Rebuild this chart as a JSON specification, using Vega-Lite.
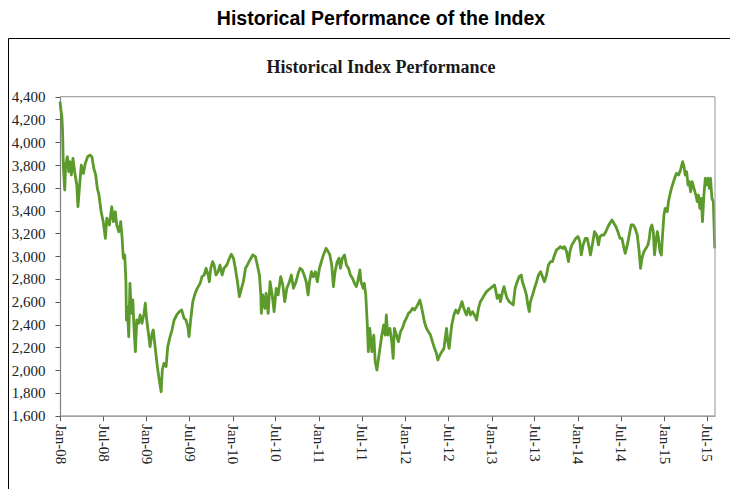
{
  "$schema": "https://vega.github.io/schema/vega-lite/v6.json",
  "autosize": "none",
  "width": 722,
  "height": 451,
  "padding": {"left": 8, "top": 38, "right": 0, "bottom": 0},
  "background": "white",
  "title": {
    "text": "Historical Performance of the Index",
    "subtitle": "Historical Index Performance",
    "anchor": "middle",
    "frame": "group",
    "offset": -40,
    "dx": 12,
    "font": "Liberation Sans",
    "fontSize": 19.5,
    "fontWeight": "bold",
    "color": "#000000",
    "subtitleFont": "Liberation Serif",
    "subtitleFontSize": 18,
    "subtitleFontWeight": "bold",
    "subtitleColor": "#1a1a1a",
    "subtitlePadding": 30
  },
  "config": {
    "view": {"stroke": "#000000", "strokeWidth": 1, "strokeDash": [722, 1173, 451, 1]},
    "axis": {"grid": false, "labelFont": "Liberation Serif", "labelFontSize": 15, "labelColor": "#222222", "tickColor": "#595959", "tickSize": 5, "domainColor": "#808080", "domainWidth": 1.2}
  },
  "resolve": {"axis": {"x": "independent", "y": "independent"}},
  "data": {"values": [
    {"date": "2008-01-01", "value": 4356}, {"date": "2008-01-05", "value": 4283}, {"date": "2008-01-09", "value": 4224}, {"date": "2008-01-12", "value": 4093}, {"date": "2008-01-15", "value": 3800}, {"date": "2008-01-21", "value": 3581}, {"date": "2008-01-25", "value": 3800}, {"date": "2008-02-01", "value": 3873}, {"date": "2008-02-07", "value": 3742}, {"date": "2008-02-12", "value": 3829}, {"date": "2008-02-18", "value": 3713}, {"date": "2008-02-25", "value": 3859}, {"date": "2008-03-03", "value": 3742}, {"date": "2008-03-12", "value": 3625}, {"date": "2008-03-17", "value": 3435}, {"date": "2008-03-23", "value": 3596}, {"date": "2008-03-31", "value": 3800}, {"date": "2008-04-09", "value": 3727}, {"date": "2008-04-17", "value": 3815}, {"date": "2008-04-27", "value": 3873}, {"date": "2008-05-07", "value": 3888}, {"date": "2008-05-15", "value": 3873}, {"date": "2008-05-23", "value": 3771}, {"date": "2008-05-31", "value": 3713}, {"date": "2008-06-07", "value": 3596}, {"date": "2008-06-14", "value": 3537}, {"date": "2008-06-23", "value": 3391}, {"date": "2008-07-02", "value": 3303}, {"date": "2008-07-11", "value": 3157}, {"date": "2008-07-17", "value": 3333}, {"date": "2008-07-28", "value": 3274}, {"date": "2008-08-07", "value": 3435}, {"date": "2008-08-14", "value": 3303}, {"date": "2008-08-22", "value": 3391}, {"date": "2008-08-28", "value": 3274}, {"date": "2008-09-06", "value": 3215}, {"date": "2008-09-14", "value": 3303}, {"date": "2008-09-20", "value": 3157}, {"date": "2008-09-25", "value": 2982}, {"date": "2008-10-01", "value": 3011}, {"date": "2008-10-06", "value": 2776}, {"date": "2008-10-08", "value": 2440}, {"date": "2008-10-12", "value": 2557}, {"date": "2008-10-18", "value": 2294}, {"date": "2008-10-23", "value": 2762}, {"date": "2008-10-29", "value": 2499}, {"date": "2008-11-04", "value": 2616}, {"date": "2008-11-09", "value": 2382}, {"date": "2008-11-15", "value": 2162}, {"date": "2008-11-21", "value": 2440}, {"date": "2008-11-29", "value": 2411}, {"date": "2008-12-05", "value": 2484}, {"date": "2008-12-13", "value": 2411}, {"date": "2008-12-22", "value": 2499}, {"date": "2008-12-27", "value": 2587},
    {"date": "2009-01-02", "value": 2440}, {"date": "2009-01-11", "value": 2294}, {"date": "2009-01-16", "value": 2206}, {"date": "2009-01-25", "value": 2323}, {"date": "2009-01-30", "value": 2352}, {"date": "2009-02-08", "value": 2177}, {"date": "2009-02-16", "value": 2031}, {"date": "2009-02-24", "value": 1914}, {"date": "2009-03-04", "value": 1811}, {"date": "2009-03-09", "value": 2001}, {"date": "2009-03-16", "value": 2060}, {"date": "2009-03-25", "value": 2031}, {"date": "2009-04-01", "value": 2206}, {"date": "2009-04-11", "value": 2294}, {"date": "2009-04-19", "value": 2352}, {"date": "2009-04-28", "value": 2440}, {"date": "2009-05-09", "value": 2484}, {"date": "2009-05-20", "value": 2513}, {"date": "2009-05-30", "value": 2528}, {"date": "2009-06-09", "value": 2455}, {"date": "2009-06-17", "value": 2440}, {"date": "2009-06-25", "value": 2382}, {"date": "2009-06-30", "value": 2294}, {"date": "2009-07-07", "value": 2440}, {"date": "2009-07-16", "value": 2601}, {"date": "2009-07-26", "value": 2674}, {"date": "2009-08-04", "value": 2718}, {"date": "2009-08-16", "value": 2762}, {"date": "2009-08-24", "value": 2820}, {"date": "2009-09-02", "value": 2835}, {"date": "2009-09-10", "value": 2894}, {"date": "2009-09-19", "value": 2835}, {"date": "2009-09-24", "value": 2776}, {"date": "2009-09-30", "value": 2894}, {"date": "2009-10-08", "value": 2952}, {"date": "2009-10-14", "value": 2923}, {"date": "2009-10-22", "value": 2835}, {"date": "2009-10-31", "value": 2864}, {"date": "2009-11-08", "value": 2923}, {"date": "2009-11-17", "value": 2835}, {"date": "2009-11-25", "value": 2894}, {"date": "2009-12-07", "value": 2923}, {"date": "2009-12-18", "value": 2982}, {"date": "2009-12-26", "value": 3017},
    {"date": "2010-01-04", "value": 2982}, {"date": "2010-01-12", "value": 2894}, {"date": "2010-01-21", "value": 2776}, {"date": "2010-01-29", "value": 2645}, {"date": "2010-02-07", "value": 2718}, {"date": "2010-02-15", "value": 2776}, {"date": "2010-02-24", "value": 2894}, {"date": "2010-03-04", "value": 2923}, {"date": "2010-03-15", "value": 2967}, {"date": "2010-03-27", "value": 3011}, {"date": "2010-04-07", "value": 2996}, {"date": "2010-04-15", "value": 2923}, {"date": "2010-04-24", "value": 2835}, {"date": "2010-04-30", "value": 2660}, {"date": "2010-05-02", "value": 2499}, {"date": "2010-05-08", "value": 2660}, {"date": "2010-05-17", "value": 2543}, {"date": "2010-05-22", "value": 2674}, {"date": "2010-05-31", "value": 2499}, {"date": "2010-06-08", "value": 2776}, {"date": "2010-06-17", "value": 2660}, {"date": "2010-06-25", "value": 2513}, {"date": "2010-07-04", "value": 2718}, {"date": "2010-07-12", "value": 2660}, {"date": "2010-07-23", "value": 2820}, {"date": "2010-08-01", "value": 2747}, {"date": "2010-08-09", "value": 2601}, {"date": "2010-08-18", "value": 2718}, {"date": "2010-08-29", "value": 2776}, {"date": "2010-09-06", "value": 2835}, {"date": "2010-09-15", "value": 2718}, {"date": "2010-09-26", "value": 2776}, {"date": "2010-10-05", "value": 2850}, {"date": "2010-10-13", "value": 2894}, {"date": "2010-10-22", "value": 2879}, {"date": "2010-10-30", "value": 2835}, {"date": "2010-11-08", "value": 2776}, {"date": "2010-11-16", "value": 2660}, {"date": "2010-11-22", "value": 2776}, {"date": "2010-11-30", "value": 2864}, {"date": "2010-12-08", "value": 2820}, {"date": "2010-12-17", "value": 2864}, {"date": "2010-12-25", "value": 2776},
    {"date": "2011-01-03", "value": 2894}, {"date": "2011-01-11", "value": 2952}, {"date": "2011-01-20", "value": 3011}, {"date": "2011-01-31", "value": 3069}, {"date": "2011-02-09", "value": 3040}, {"date": "2011-02-16", "value": 3011}, {"date": "2011-02-24", "value": 2923}, {"date": "2011-03-03", "value": 2733}, {"date": "2011-03-10", "value": 2864}, {"date": "2011-03-19", "value": 2952}, {"date": "2011-03-27", "value": 2982}, {"date": "2011-04-02", "value": 2894}, {"date": "2011-04-10", "value": 2982}, {"date": "2011-04-19", "value": 3011}, {"date": "2011-04-27", "value": 2923}, {"date": "2011-05-06", "value": 2894}, {"date": "2011-05-14", "value": 2835}, {"date": "2011-05-23", "value": 2806}, {"date": "2011-05-31", "value": 2762}, {"date": "2011-06-08", "value": 2733}, {"date": "2011-06-14", "value": 2776}, {"date": "2011-06-23", "value": 2879}, {"date": "2011-06-28", "value": 2776}, {"date": "2011-07-07", "value": 2718}, {"date": "2011-07-12", "value": 2762}, {"date": "2011-07-18", "value": 2660}, {"date": "2011-07-24", "value": 2425}, {"date": "2011-07-29", "value": 2162}, {"date": "2011-08-04", "value": 2367}, {"date": "2011-08-13", "value": 2162}, {"date": "2011-08-21", "value": 2308}, {"date": "2011-08-27", "value": 2074}, {"date": "2011-09-03", "value": 2001}, {"date": "2011-09-10", "value": 2104}, {"date": "2011-09-16", "value": 2191}, {"date": "2011-09-24", "value": 2308}, {"date": "2011-10-02", "value": 2396}, {"date": "2011-10-08", "value": 2308}, {"date": "2011-10-13", "value": 2484}, {"date": "2011-10-19", "value": 2308}, {"date": "2011-10-28", "value": 2367}, {"date": "2011-11-05", "value": 2250}, {"date": "2011-11-11", "value": 2104}, {"date": "2011-11-16", "value": 2367}, {"date": "2011-11-25", "value": 2308}, {"date": "2011-12-03", "value": 2250}, {"date": "2011-12-12", "value": 2338}, {"date": "2011-12-20", "value": 2367}, {"date": "2011-12-29", "value": 2425},
    {"date": "2012-01-06", "value": 2455}, {"date": "2012-01-15", "value": 2499}, {"date": "2012-01-23", "value": 2513}, {"date": "2012-02-01", "value": 2543}, {"date": "2012-02-09", "value": 2528}, {"date": "2012-02-18", "value": 2557}, {"date": "2012-02-26", "value": 2587}, {"date": "2012-03-03", "value": 2616}, {"date": "2012-03-08", "value": 2572}, {"date": "2012-03-14", "value": 2513}, {"date": "2012-03-22", "value": 2425}, {"date": "2012-03-31", "value": 2367}, {"date": "2012-04-08", "value": 2338}, {"date": "2012-04-17", "value": 2308}, {"date": "2012-04-25", "value": 2250}, {"date": "2012-05-04", "value": 2191}, {"date": "2012-05-12", "value": 2148}, {"date": "2012-05-18", "value": 2089}, {"date": "2012-05-27", "value": 2133}, {"date": "2012-06-04", "value": 2162}, {"date": "2012-06-13", "value": 2191}, {"date": "2012-06-18", "value": 2279}, {"date": "2012-06-24", "value": 2367}, {"date": "2012-06-29", "value": 2250}, {"date": "2012-07-05", "value": 2191}, {"date": "2012-07-11", "value": 2308}, {"date": "2012-07-16", "value": 2396}, {"date": "2012-07-25", "value": 2484}, {"date": "2012-08-02", "value": 2528}, {"date": "2012-08-11", "value": 2499}, {"date": "2012-08-19", "value": 2543}, {"date": "2012-08-28", "value": 2601}, {"date": "2012-09-05", "value": 2543}, {"date": "2012-09-16", "value": 2484}, {"date": "2012-09-25", "value": 2543}, {"date": "2012-10-03", "value": 2484}, {"date": "2012-10-12", "value": 2513}, {"date": "2012-10-20", "value": 2484}, {"date": "2012-10-29", "value": 2440}, {"date": "2012-11-06", "value": 2543}, {"date": "2012-11-14", "value": 2601}, {"date": "2012-11-23", "value": 2630}, {"date": "2012-12-01", "value": 2660}, {"date": "2012-12-10", "value": 2689}, {"date": "2012-12-18", "value": 2704}, {"date": "2012-12-27", "value": 2718},
    {"date": "2013-01-04", "value": 2733}, {"date": "2013-01-13", "value": 2747}, {"date": "2013-01-19", "value": 2689}, {"date": "2013-01-24", "value": 2630}, {"date": "2013-02-02", "value": 2660}, {"date": "2013-02-07", "value": 2601}, {"date": "2013-02-16", "value": 2689}, {"date": "2013-02-22", "value": 2733}, {"date": "2013-02-27", "value": 2689}, {"date": "2013-03-07", "value": 2630}, {"date": "2013-03-16", "value": 2601}, {"date": "2013-03-24", "value": 2587}, {"date": "2013-04-02", "value": 2572}, {"date": "2013-04-10", "value": 2718}, {"date": "2013-04-19", "value": 2776}, {"date": "2013-04-27", "value": 2820}, {"date": "2013-05-06", "value": 2835}, {"date": "2013-05-11", "value": 2776}, {"date": "2013-05-20", "value": 2718}, {"date": "2013-05-28", "value": 2660}, {"date": "2013-06-03", "value": 2572}, {"date": "2013-06-09", "value": 2513}, {"date": "2013-06-14", "value": 2601}, {"date": "2013-06-23", "value": 2660}, {"date": "2013-07-01", "value": 2718}, {"date": "2013-07-10", "value": 2776}, {"date": "2013-07-18", "value": 2835}, {"date": "2013-07-27", "value": 2864}, {"date": "2013-08-04", "value": 2820}, {"date": "2013-08-12", "value": 2776}, {"date": "2013-08-21", "value": 2835}, {"date": "2013-08-29", "value": 2923}, {"date": "2013-09-07", "value": 2952}, {"date": "2013-09-15", "value": 2952}, {"date": "2013-09-24", "value": 3011}, {"date": "2013-10-02", "value": 3055}, {"date": "2013-10-11", "value": 3069}, {"date": "2013-10-19", "value": 3084}, {"date": "2013-10-28", "value": 3069}, {"date": "2013-11-05", "value": 3084}, {"date": "2013-11-14", "value": 3040}, {"date": "2013-11-22", "value": 2952}, {"date": "2013-11-28", "value": 3040}, {"date": "2013-12-06", "value": 3099}, {"date": "2013-12-15", "value": 3128}, {"date": "2013-12-23", "value": 3157},
    {"date": "2014-01-01", "value": 3172}, {"date": "2014-01-09", "value": 3128}, {"date": "2014-01-15", "value": 3011}, {"date": "2014-01-23", "value": 3099}, {"date": "2014-02-01", "value": 3157}, {"date": "2014-02-09", "value": 3157}, {"date": "2014-02-18", "value": 3069}, {"date": "2014-02-23", "value": 3011}, {"date": "2014-03-04", "value": 3113}, {"date": "2014-03-12", "value": 3215}, {"date": "2014-03-21", "value": 3186}, {"date": "2014-03-29", "value": 3099}, {"date": "2014-04-04", "value": 3172}, {"date": "2014-04-12", "value": 3186}, {"date": "2014-04-21", "value": 3186}, {"date": "2014-04-29", "value": 3215}, {"date": "2014-05-08", "value": 3259}, {"date": "2014-05-16", "value": 3289}, {"date": "2014-05-25", "value": 3318}, {"date": "2014-06-02", "value": 3289}, {"date": "2014-06-11", "value": 3259}, {"date": "2014-06-19", "value": 3215}, {"date": "2014-06-28", "value": 3157}, {"date": "2014-07-06", "value": 3157}, {"date": "2014-07-15", "value": 3069}, {"date": "2014-07-20", "value": 3025}, {"date": "2014-07-29", "value": 3099}, {"date": "2014-08-06", "value": 3186}, {"date": "2014-08-14", "value": 3274}, {"date": "2014-08-23", "value": 3274}, {"date": "2014-08-31", "value": 3245}, {"date": "2014-09-09", "value": 3186}, {"date": "2014-09-17", "value": 3040}, {"date": "2014-09-23", "value": 2894}, {"date": "2014-09-29", "value": 2982}, {"date": "2014-10-07", "value": 3040}, {"date": "2014-10-16", "value": 3069}, {"date": "2014-10-24", "value": 3099}, {"date": "2014-10-30", "value": 3157}, {"date": "2014-11-04", "value": 3245}, {"date": "2014-11-10", "value": 3274}, {"date": "2014-11-16", "value": 3215}, {"date": "2014-11-21", "value": 3011}, {"date": "2014-11-27", "value": 3128}, {"date": "2014-12-03", "value": 3215}, {"date": "2014-12-08", "value": 3157}, {"date": "2014-12-14", "value": 3040}, {"date": "2014-12-20", "value": 3011}, {"date": "2014-12-25", "value": 3186}, {"date": "2014-12-31", "value": 3362},
    {"date": "2015-01-05", "value": 3420}, {"date": "2015-01-14", "value": 3391}, {"date": "2015-01-19", "value": 3479}, {"date": "2015-01-28", "value": 3566}, {"date": "2015-02-05", "value": 3625}, {"date": "2015-02-14", "value": 3684}, {"date": "2015-02-22", "value": 3727}, {"date": "2015-03-03", "value": 3713}, {"date": "2015-03-11", "value": 3757}, {"date": "2015-03-20", "value": 3830}, {"date": "2015-03-26", "value": 3786}, {"date": "2015-03-31", "value": 3713}, {"date": "2015-04-06", "value": 3742}, {"date": "2015-04-12", "value": 3625}, {"date": "2015-04-17", "value": 3654}, {"date": "2015-04-23", "value": 3566}, {"date": "2015-04-29", "value": 3654}, {"date": "2015-05-07", "value": 3596}, {"date": "2015-05-15", "value": 3537}, {"date": "2015-05-21", "value": 3479}, {"date": "2015-05-26", "value": 3537}, {"date": "2015-06-01", "value": 3420}, {"date": "2015-06-07", "value": 3508}, {"date": "2015-06-12", "value": 3303}, {"date": "2015-06-18", "value": 3537}, {"date": "2015-06-24", "value": 3684}, {"date": "2015-06-29", "value": 3625}, {"date": "2015-07-05", "value": 3684}, {"date": "2015-07-11", "value": 3596}, {"date": "2015-07-16", "value": 3684}, {"date": "2015-07-22", "value": 3508}, {"date": "2015-07-28", "value": 3479}, {"date": "2015-08-03", "value": 3069}
  ]},
  "layer": [
    {
      "mark": {"type": "line", "color": "#5c9a2b", "strokeWidth": 2.8, "strokeJoin": "round"},
      "encoding": {
        "x": {
          "field": "date",
          "type": "temporal",
          "scale": {
            "type": "utc",
            "domain": [{"year": 2008, "month": 1, "date": 1, "utc": true}, {"year": 2015, "month": 8, "date": 4, "utc": true}],
            "range": [52, 707],
            "nice": false
          },
          "axis": {
            "title": null,
            "orient": "bottom",
            "offset": -73.3,
            "format": "%b-%y",
            "labelAngle": 90,
            "labelPadding": 3,
            "labelOverlap": false,
            "labelFlush": false,
            "values": [
              {"year": 2008, "month": 1, "date": 1, "utc": true}, {"year": 2008, "month": 7, "date": 1, "utc": true},
              {"year": 2009, "month": 1, "date": 1, "utc": true}, {"year": 2009, "month": 7, "date": 1, "utc": true},
              {"year": 2010, "month": 1, "date": 1, "utc": true}, {"year": 2010, "month": 7, "date": 1, "utc": true},
              {"year": 2011, "month": 1, "date": 1, "utc": true}, {"year": 2011, "month": 7, "date": 1, "utc": true},
              {"year": 2012, "month": 1, "date": 1, "utc": true}, {"year": 2012, "month": 7, "date": 1, "utc": true},
              {"year": 2013, "month": 1, "date": 1, "utc": true}, {"year": 2013, "month": 7, "date": 1, "utc": true},
              {"year": 2014, "month": 1, "date": 1, "utc": true}, {"year": 2014, "month": 7, "date": 1, "utc": true},
              {"year": 2015, "month": 1, "date": 1, "utc": true}, {"year": 2015, "month": 7, "date": 1, "utc": true}
            ]
          }
        },
        "y": {
          "field": "value",
          "type": "quantitative",
          "scale": {"domain": [1600, 4400], "range": [377.7, 58.7], "nice": false, "zero": false},
          "axis": {
            "title": null,
            "orient": "left",
            "offset": -52,
            "format": ",d",
            "labelPadding": 10,
            "labelOverlap": false,
            "labelFlush": false,
            "values": [1600, 1800, 2000, 2200, 2400, 2600, 2800, 3000, 3200, 3400, 3600, 3800, 4000, 4200, 4400]
          }
        }
      }
    },
    {
      "data": {"values": [{}]},
      "mark": {"type": "rule", "color": "#a6a6a6", "strokeWidth": 1.2},
      "encoding": {
        "x": {"datum": {"year": 2008, "month": 1, "date": 1, "utc": true}, "type": "temporal", "axis": null},
        "x2": {"datum": {"year": 2015, "month": 8, "date": 4, "utc": true}},
        "y": {"datum": 4400, "type": "quantitative", "axis": null}
      }
    },
    {
      "data": {"values": [{}]},
      "mark": {"type": "rule", "color": "#a6a6a6", "strokeWidth": 1.2},
      "encoding": {
        "x": {"datum": {"year": 2015, "month": 8, "date": 4, "utc": true}, "type": "temporal", "axis": null},
        "y": {"datum": 1600, "type": "quantitative", "axis": null},
        "y2": {"datum": 4400}
      }
    }
  ]
}
